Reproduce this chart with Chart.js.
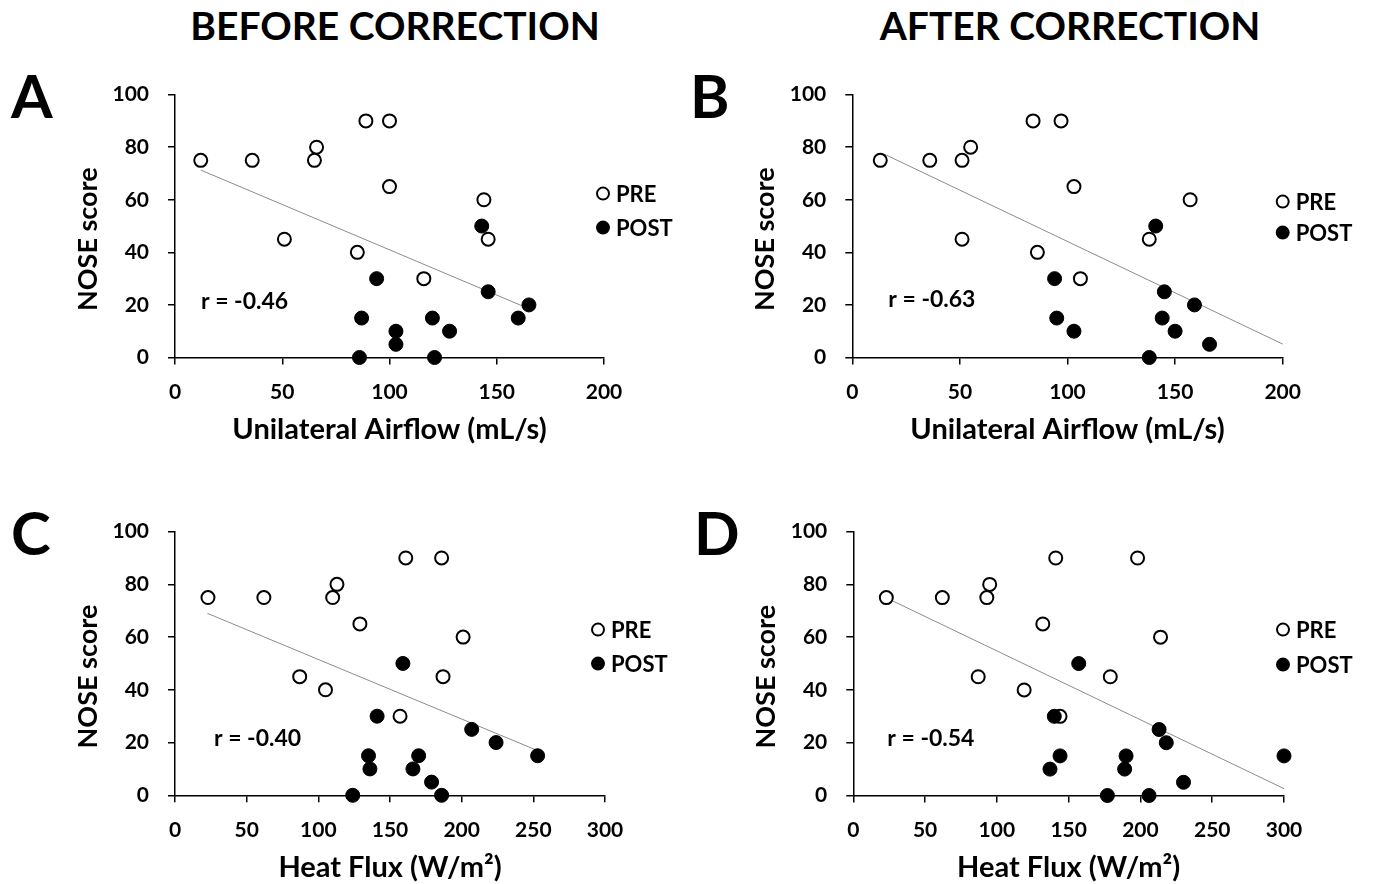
<!DOCTYPE html>
<html><head><meta charset="utf-8">
<script src="https://cdn.jsdelivr.net/npm/chart.js@4.4.1/dist/chart.umd.min.js"></script>
<style>
html,body{margin:0;padding:0;background:#fff;width:1373px;height:884px;overflow:hidden;position:relative;font-family:Lato,"Open Sans",sans-serif;}
canvas{position:absolute;}
.lbl{position:absolute;font-weight:700;color:#000;white-space:nowrap;line-height:1;font-family:Lato,sans-serif;}
.ttl{width:600px;text-align:center;font-size:39px;top:6px;}
.let{font-size:60px;}
</style></head><body>
<div class="lbl ttl" style="left:95px">BEFORE CORRECTION</div>
<div class="lbl ttl" style="left:770px">AFTER CORRECTION</div>
<div class="lbl let" style="left:11px;top:65px">A</div>
<div class="lbl let" style="left:690px;top:65px">B</div>
<div class="lbl let" style="left:11px;top:502px">C</div>
<div class="lbl let" style="left:694px;top:502px">D</div>
<canvas id="cA"></canvas><canvas id="cB"></canvas><canvas id="cC"></canvas><canvas id="cD"></canvas>
<script>
// ---- data ----
const yTicks = [0,20,40,60,80,100];
const airflowTicks = [0,50,100,150,200];
const heatTicks = [0,50,100,150,200,250,300];

const aPreX = [12,36,66,65,89,100,100,51,85,116,144,146];
const aPreY = [75,75,80,75,90,90,65,45,40,30,60,45];
const aPostX = [94,143,146,165,160,87,120,103,103,128,86,121];
const aPostY = [30,50,25,20,15,15,15,10,5,10,0,0];
const aTrendX = [12,164];
const aTrendY = [71.3,18.9];

const bPreX = [13,36,51,55,84,97,103,51,86,106,157,138];
const bPreY = [75,75,75,80,90,90,65,45,40,30,60,45];
const bPostX = [141,94,95,103,145,159,144,150,166,138];
const bPostY = [50,30,15,10,25,20,15,10,5,0];
const bTrendX = [15,200];
const bTrendY = [77.3,5.1];

const cPreX = [23,62,113,110,161,186,129,201,87,105,187,157];
const cPreY = [75,75,80,75,90,90,65,60,45,40,45,30];
const cPostX = [159,141,207,224,253,135,136,170,166,179,124,186];
const cPostY = [50,30,25,20,15,15,10,15,10,5,0,0];
const cTrendX = [22.6,252.3];
const cTrendY = [69,17.1];

const dPreX = [23,62,95,93,141,198,132,214,87,119,179,144];
const dPreY = [75,75,80,75,90,90,65,60,45,40,45,30];
const dPostX = [157,140,213,218,300,144,137,190,189,230,177,206];
const dPostY = [50,30,25,20,15,15,10,15,10,5,0,0];
const dTrendX = [24.5,300];
const dTrendY = [74.5,2.6];

const rA = 'r = -0.46', rB = 'r = -0.63', rC = 'r = -0.40', rD = 'r = -0.54';
const yTitle = 'NOSE score';
const xTitleAir = 'Unilateral Airflow (mL/s)';
const xTitleHeat = 'Heat Flux (W/m\u00B2)';
const seriesNames = ['PRE','POST'];

const zip = (xs, ys) => xs.map((x,i) => ({x, y: ys[i]}));
const FONT = 'Lato, sans-serif';

const overlay = {
  id: 'overlay',
  afterDatasetsDraw(chart, args, o) {
    const {ctx, chartArea: a} = chart;
    ctx.save();
    ctx.fillStyle = '#000';
    ctx.textBaseline = 'middle';
    ctx.textAlign = 'left';
    ctx.font = '700 23px ' + FONT;
    ctx.fillText(o.r, a.left + o.rDx, a.top + o.rDy);
    // legend
    ctx.font = '700 22px ' + FONT;
    const ds = chart.data.datasets.filter(d => d.label);
    ds.forEach((d, i) => {
      const cx = a.right + o.legDx;
      const cy = a.top + o.legDy[i];
      ctx.beginPath();
      ctx.arc(cx, cy, 6, 0, Math.PI*2);
      ctx.fillStyle = d.pointBackgroundColor;
      ctx.fill();
      ctx.lineWidth = 2;
      ctx.strokeStyle = '#000';
      ctx.stroke();
      ctx.fillStyle = '#000';
      ctx.fillText(d.label, cx + 13, cy + 1);
    });
    ctx.restore();
  }
};

function makePanel(id, area, xMax, xTickArr, xTitle, pre, post, trend, ov) {
  const cv = document.getElementById(id);
  const left = Math.floor(area.l - 120);
  const top = Math.floor(area.t - 30);
  const width = Math.ceil(area.r - left + 100);
  const height = Math.ceil(area.b - top + 90);
  cv.width = width; cv.height = height;
  cv.style.left = left + 'px'; cv.style.top = top + 'px';
  cv.style.width = width + 'px'; cv.style.height = height + 'px';
  const yW = area.l - left;
  const padTop = area.t - top;
  const padRight = width - (area.r - left);
  const padBottom = height - (area.b - top) - 90;
  const tickFont = {family: FONT, size: 21, weight: '700'};
  new Chart(cv, {
    type: 'scatter',
    data: {
      datasets: [
        {label: seriesNames[0], data: pre, pointRadius: 6.5, pointHoverRadius: 6.5,
         pointBackgroundColor: '#fff', pointBorderColor: '#000', pointBorderWidth: 2, clip: false, order: 2},
        {label: seriesNames[1], data: post, pointRadius: 7, pointHoverRadius: 7,
         pointBackgroundColor: '#000', pointBorderColor: '#000', pointBorderWidth: 1, clip: false, order: 1},
        {data: trend, showLine: true, borderColor: '#8c8c8c', borderWidth: 1, pointRadius: 0, clip: false, order: 3}
      ]
    },
    options: {
      responsive: false, animation: false, devicePixelRatio: 1,
      layout: {padding: {left: 0, top: padTop, right: padRight, bottom: padBottom}},
      plugins: {legend: {display: false}, tooltip: {enabled: false}, overlay: ov},
      scales: {
        x: {
          type: 'linear', min: 0, max: xMax,
          afterBuildTicks: s => { s.ticks = xTickArr.map(v => ({value: v})); },
          afterFit: s => { s.height = 90; },
          grid: {display: true, drawOnChartArea: false, drawTicks: true, tickLength: 7, color: '#000', lineWidth: 1.5},
          border: {display: true, color: '#000', width: 1.5},
          ticks: {font: tickFont, color: '#000', padding: 15, maxRotation: 0},
          title: {display: true, text: xTitle, color: '#000', font: {family: FONT, size: 29, weight: '700'}, padding: {top: 0, bottom: 0}}
        },
        y: {
          type: 'linear', min: 0, max: 100,
          afterBuildTicks: s => { s.ticks = yTicks.map(v => ({value: v})); },
          afterFit: s => { s.width = yW; },
          grid: {display: true, drawOnChartArea: false, drawTicks: true, tickLength: 7, color: '#000', lineWidth: 1.5},
          border: {display: true, color: '#000', width: 1.5},
          ticks: {font: tickFont, color: '#000', padding: 19},
          title: {display: true, text: yTitle + '    ', color: '#000', font: {family: FONT, size: 27, weight: '700'}, padding: {top: 17, bottom: 0}}
        }
      }
    },
    plugins: [overlay]
  });
}

makePanel('cA', {l:175, r:604, t:93.3, b:357.5}, 200, airflowTicks, xTitleAir,
  zip(aPreX, aPreY), zip(aPostX, aPostY), zip(aTrendX, aTrendY),
  {r: rA, rDx: 26, rDy: 207, legDx: -1, legDy: [99, 133]});
makePanel('cB', {l:852.3, r:1282.7, t:93.3, b:357.5}, 200, airflowTicks, xTitleAir,
  zip(bPreX, bPreY), zip(bPostX, bPostY), zip(bTrendX, bTrendY),
  {r: rB, rDx: 36, rDy: 205, legDx: 0, legDy: [107, 138]});
makePanel('cC', {l:175, r:605, t:530, b:795.3}, 300, heatTicks, xTitleHeat,
  zip(cPreX, cPreY), zip(cPostX, cPostY), zip(cTrendX, cTrendY),
  {r: rC, rDx: 39, rDy: 207, legDx: -7, legDy: [98, 132]});
makePanel('cD', {l:853.3, r:1284, t:530, b:795.5}, 300, heatTicks, xTitleHeat,
  zip(dPreX, dPreY), zip(dPostX, dPostY), zip(dTrendX, dTrendY),
  {r: rD, rDx: 34, rDy: 207, legDx: -1, legDy: [98, 133]});
</script>
</body></html>
